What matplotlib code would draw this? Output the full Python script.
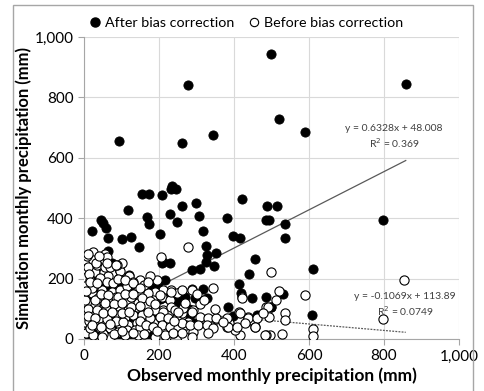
import numpy as np
import matplotlib.pyplot as plt
from matplotlib.lines import Line2D
from matplotlib.patches import Rectangle
from matplotlib.ticker import FuncFormatter

plt.rcParams['font.family'] = ['Lato', 'DejaVu Sans']

# after bias correction (filled)
after_x = [858, 500, 278, 520, 343, 94, 260, 589,
           21, 45, 51, 59, 63, 65, 101, 118, 125, 147, 154, 172, 167, 172, 202, 208,
           229, 234, 231, 245, 247, 260, 298, 307, 318, 324, 327, 353, 380, 398, 415,
           422, 455, 484, 494, 489, 515, 535, 537, 797,
           326, 347, 289, 309, 439, 413, 418, 449, 484, 318, 287, 258, 297, 329, 280,
           384, 398, 460, 282, 278, 498, 242, 260, 611, 531, 500, 609,
           75, 3, 94, 121, 211, 229, 198, 216, 176, 96, 34, 202, 229, 237, 145, 122,
           94, 69, 136, 121, 131, 105, 0, 0, 0, 16, 43, 60, 87, 105, 122, 145,
           25, 43, 0, 69, 11, 207, 189, 256, 269, 185, 207, 224, 278, 251, 140, 149,
           171, 138, 291, 30, 55, 95, 5, 20, 8, 35, 70, 112, 150, 180, 2, 48,
           20, 40, 60, 5, 80, 110, 35, 55, 10, 160, 180, 90]
after_y = [845, 945, 840, 728, 677, 654, 649, 686,
           356, 395, 384, 369, 336, 290, 331, 426, 339, 306, 481, 481, 404, 380, 347, 478,
           414, 508, 497, 497, 387, 439, 450, 408, 356, 308, 279, 286, 400, 342, 336,
           463, 264, 395, 395, 439, 441, 380, 334, 395,
           256, 242, 229, 231, 216, 181, 152, 135, 140, 164, 165, 138, 135, 135, 98,
           107, 76, 80, 80, 52, 107, 140, 124, 231, 149, 107, 80,
           251, 229, 231, 212, 254, 251, 185, 196, 168, 171, 207, 132, 132, 126, 113, 74,
           201, 170, 159, 137, 96, 74, 173, 145, 10, 10, 13, 10, 13, 8, 13, 10,
           85, 63, 74, 35, 41, 251, 179, 157, 140, 140, 135, 135, 91, 113, 102, 63,
           8, 13, 52, 25, 30, 30, 110, 200, 40, 5, 18, 6, 22, 14, 235, 45,
           60, 100, 120, 60, 50, 40, 150, 180, 130, 100, 80, 90]

# before bias correction (open)
before_x = [853, 797, 589, 611, 611, 529, 497, 485, 535, 535, 520, 500, 486, 493,
            437, 453, 455, 414, 415, 402, 420, 387, 380, 344, 353, 291, 278, 205,
            25, 3, 25, 47, 7, 29, 52, 65, 2, 16, 43, 60, 78, 3, 25, 47, 74, 96, 114,
            0, 20, 38, 56, 78, 100, 118, 136, 7, 29, 52, 74, 96, 118, 140, 0, 20, 43,
            65, 87, 109, 131, 3, 29, 52, 74, 96, 118, 140, 16, 43, 69, 91, 114, 136, 69,
            194, 233, 211, 189, 167, 145, 140, 163, 185, 207, 229, 247, 211, 233, 207,
            229, 247, 211, 238, 218, 149, 171, 202, 233, 260, 287, 145, 167, 189, 211,
            233, 154, 176, 202, 225, 260, 278, 149, 171, 207, 229, 251, 273, 216, 238,
            269, 291, 145, 189, 420, 491, 242, 265, 287, 309, 331, 353, 380, 415, 438,
            460, 477, 260, 282, 304, 327, 344, 384, 407, 429, 455, 482, 260, 287, 331,
            513, 10, 35, 12, 55, 2, 30, 12, 40, 60, 85, 105, 5, 25, 50, 80, 110, 125,
            150, 160, 175, 120, 95, 70, 100, 55, 8, 33, 62, 88, 15, 48, 84, 58, 20, 130,
            10, 40, 60, 85, 15, 35, 90, 110, 130, 150, 170, 5, 45, 65, 90, 110, 130,
            155, 175, 10, 35, 55, 80, 100, 125, 150, 170, 190, 10, 30, 50, 75, 100,
            120, 150, 165, 185, 195, 20, 45, 70, 100, 130, 160, 300, 250, 270, 310,
            320, 350, 370, 240]
before_y = [196, 65, 146, 32, 10, 17, 13, 13, 85, 63, 160, 223, 107, 74,
            74, 57, 39, 91, 13, 30, 140, 52, 39, 168, 65, 96, 304, 270,
            287, 262, 262, 262, 229, 223, 223, 207, 201, 196, 201, 190, 185, 174, 179,
            163, 157, 163, 174, 146, 151, 135, 135, 129, 135, 124, 129, 118, 113, 107,
            107, 102, 96, 107, 91, 85, 91, 80, 80, 74, 80, 57, 57, 52, 52, 46, 46, 52,
            30, 35, 35, 24, 30, 30, 8,
            196, 163, 163, 157, 151, 163, 140, 129, 129, 140, 129, 151, 96, 91, 63,
            52, 74, 30, 19, 8, 146, 152, 146, 157, 163, 163, 118, 113, 96, 91,
            107, 80, 69, 74, 69, 85, 57, 41, 35, 46, 41, 35, 46, 13, 19,
            8, 24, 13, 8, 135, 107, 96, 102, 91, 74, 69, 69, 69, 87, 69,
            69, 85, 52, 46, 46, 46, 35, 41, 41, 52, 41, 13, 19, 8, 19,
            129, 240, 245, 215, 240, 130, 130, 60, 70, 65, 60, 55, 20, 12, 18, 15, 12, 140,
            195, 180, 210, 210, 225, 240, 250, 280, 275, 250, 270, 245, 35, 8, 140, 100, 170, 190,
            280, 275, 250, 245, 190, 185, 200, 195, 185, 170, 190, 160, 150, 145, 140,
            150, 150, 135, 125, 100, 95, 120, 115, 120, 105, 110, 90, 115, 75, 70, 85,
            90, 85, 90, 60, 45, 40, 25, 45, 40, 50, 25, 20, 15, 150, 90, 120, 115,
            130, 100, 55, 60]

xticks = [0, 200, 400, 600, 800, 1000]
yticks = [0, 200, 400, 600, 800, 1000]

fig = plt.figure(figsize=(4.84, 3.91), dpi=100)
ax = fig.add_axes([0.1736, 0.133, 0.7747, 0.7724])

# chart frame
fig.patches.append(Rectangle((12.5 / 484, -0.05), (473 - 12.5) / 484, 1.05 - 5 / 391,
                             transform=fig.transFigure, fill=False, edgecolor='#a6a6a6',
                             linewidth=1.0))

# trendlines (fitted lines as shown on the chart)
xs = np.array([0, 858])
ax.plot(xs, 0.6328 * xs + 48.008, color='#595959', linewidth=0.9, zorder=1)
ax.plot(xs, -0.1069 * xs + 113.89, color='#595959', linewidth=0.9,
        linestyle=(0, (1.5, 1.0)), zorder=1)

ax.scatter(after_x, after_y, s=44, c='black', edgecolors='black', linewidths=0.6, zorder=2)
ax.scatter(before_x, before_y, s=44, c='white', edgecolors='black', linewidths=0.8, zorder=3)

fig.text(394 / 484, 1 - 137 / 391, 'y = 0.6328x + 48.008\nR$^2$ = 0.369', fontsize=7.5,
         ha='center', va='center', color='#404040', linespacing=1.3, zorder=5)
fig.text(405 / 484, 1 - 305 / 391, 'y = -0.1069x + 113.89\nR$^2$ = 0.0749', fontsize=7.5,
         ha='center', va='center', color='#404040', linespacing=1.3, zorder=5)

ax.set_xlim(0, 1000)
ax.set_ylim(0, 1000)
ax.set_xticks(xticks)
ax.set_yticks(yticks)
fmt = FuncFormatter(lambda v, p: f'{int(v):,}')
ax.xaxis.set_major_formatter(fmt)
ax.yaxis.set_major_formatter(fmt)
ax.tick_params(labelsize=11, colors='#a6a6a6', labelcolor='black', length=4, width=0.8)
ax.grid(True, color='#d9d9d9', linewidth=0.8)
ax.set_axisbelow(True)
for s in ['top', 'right']:
    ax.spines[s].set_visible(False)
for s in ['left', 'bottom']:
    ax.spines[s].set_color('#a6a6a6')

ax.set_xlabel('Observed monthly precipitation (mm)', fontsize=12.5, fontweight='bold', labelpad=3)
ax.set_ylabel('Simulation monthly precipitation (mm)', fontsize=12, fontweight='bold', labelpad=2)

handles = [Line2D([], [], marker='o', linestyle='', markerfacecolor='black',
                  markeredgecolor='black', markersize=6.5),
           Line2D([], [], marker='o', linestyle='', markerfacecolor='white',
                  markeredgecolor='black', markersize=6.0, markeredgewidth=0.8)]
fig.legend(handles, ['After bias correction', 'Before bias correction'], ncol=2,
           loc='center left', bbox_to_anchor=(88 / 484, 1 - 23 / 391), frameon=False,
           fontsize=10.3, handletextpad=0.2, columnspacing=0.9, handlelength=1.0,
           borderaxespad=0, borderpad=0)

fig.savefig('out.png', dpi=100)
